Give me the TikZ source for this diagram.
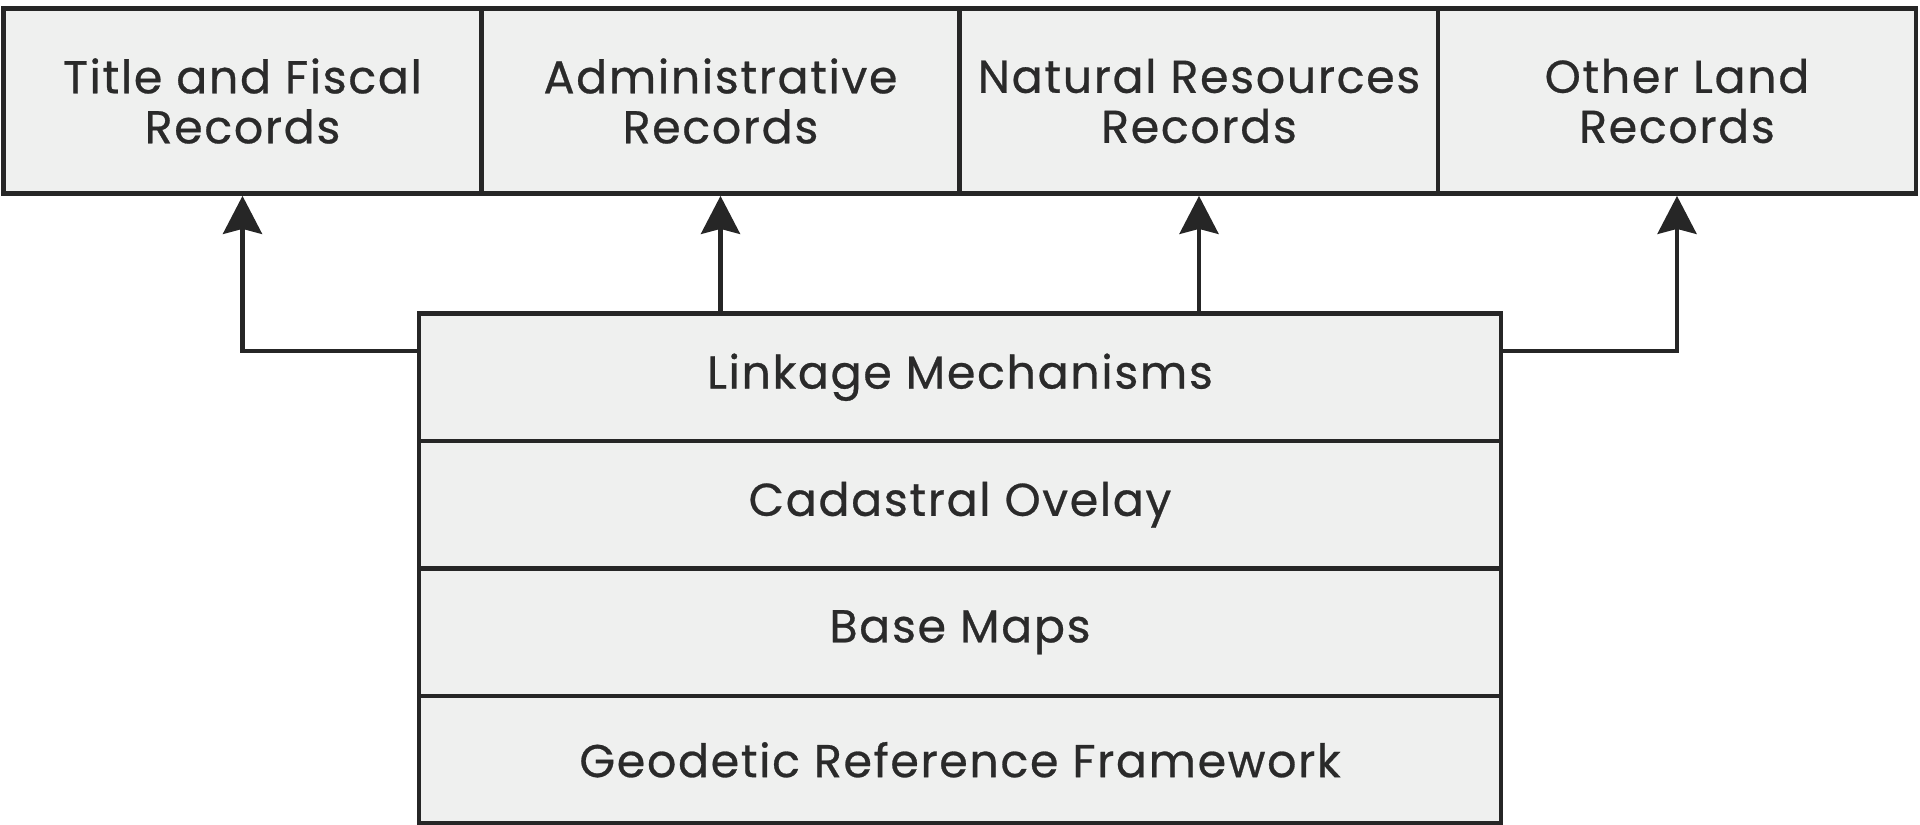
\documentclass[tikz,border=0pt]{standalone}
\usepackage{fontspec}
\setmainfont{Poppins}[LetterSpace=3.5,FakeBold=0.6]
\usetikzlibrary{arrows.meta}
\definecolor{boxfill}{HTML}{EFF0EF}
\definecolor{linec}{HTML}{262626}
\definecolor{textc}{HTML}{2A2A2A}
\begin{document}
\begin{tikzpicture}[x=0.5pt,y=-0.5pt,
  recbox/.style={draw=linec,fill=boxfill,line width=2.4pt,rectangle,inner sep=0pt,
    minimum width=239pt,minimum height=92.5pt,align=center,text=textc,
    font=\fontsize{23}{25}\selectfont},
  layerbox/.style={draw=linec,fill=boxfill,line width=2.3pt,rectangle,inner sep=0pt,
    minimum width=541pt,minimum height=63.75pt,align=center,text=textc,
    font=\fontsize{23}{25}\selectfont},
  arr/.style={draw=linec,line width=2.1pt,-{Stealth[length=19pt,width=19.5pt,inset=2.5pt]}}]
\fill[white] (0,0) rectangle (1920,824);
\useasboundingbox (0,0) rectangle (1920,824);
% top row
\node[recbox] (t1) at (242.5,101) {Title and Fiscal\\Records};
\node[recbox] (t2) at (720.5,101) {Administrative\\Records};
\node[recbox] (t3) at (1199,101) {Natural Resources\\Records};
\node[recbox] (t4) at (1677,101) {Other Land\\Records};
% stack
\node[layerbox] (lm) at (960,377.25) {Linkage Mechanisms};
\node[layerbox] (co) at (960,504.75) {Cadastral Ovelay};
\node[layerbox] (bm) at (960,632.25) {Base Maps};
\node[layerbox] (gr) at (960,759.75) {Geodetic Reference Framework};
% connectors
\draw[arr] ([yshift=13pt]lm.west) -| (t1.south);
\draw[arr] (lm.north -| t2.south) -- (t2.south);
\draw[arr] (lm.north -| t3.south) -- (t3.south);
\draw[arr] ([yshift=13pt]lm.east) -| (t4.south);
\end{tikzpicture}
\end{document}
